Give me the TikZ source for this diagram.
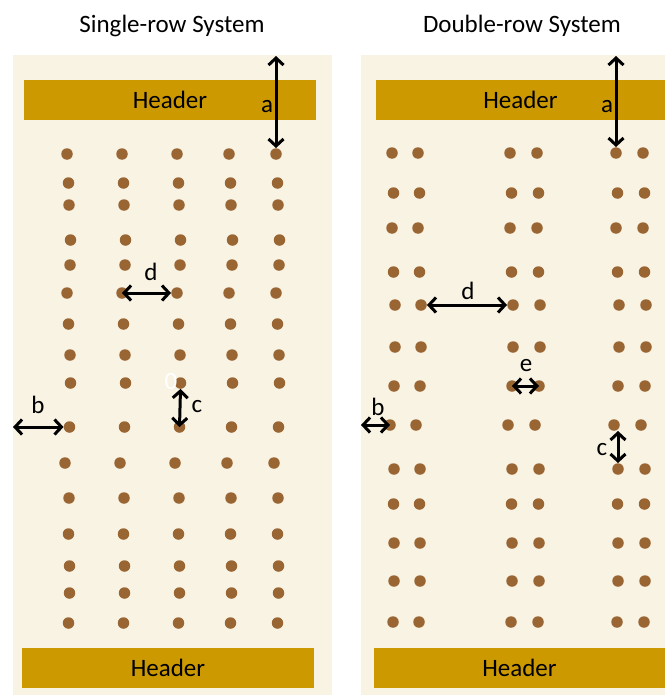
\documentclass[tikz,border=0pt]{standalone}
\usepackage{fontspec}
\setmainfont{Carlito}
\usepackage{xcolor}
\usetikzlibrary{positioning,arrows.meta}
\definecolor{panel}{HTML}{F9F3E4}
\definecolor{gold}{HTML}{CC9900}
\definecolor{pin}{HTML}{996633}
\tikzstyle{header}=[rectangle, fill=gold, inner sep=0pt, minimum height=40pt,
        text centered, font=\fontsize{25}{30}\selectfont]
\tikzstyle{pindot}=[circle, fill=pin, inner sep=0pt, minimum size=11.5pt]
\tikzstyle{dim}=[line width=3pt, >={Straight Barb[length=7pt,width=15pt]}, <->]
\tikzstyle{lbl}=[inner sep=0pt, anchor=base, font=\fontsize{25}{30}\selectfont]

\begin{document}
\begin{tikzpicture}[x=1pt,y=-1pt]
        \useasboundingbox (0,0) rectangle (665,696);
        % panels
        \fill[panel] (13,55) rectangle (332,695);
        \fill[panel] (361,55) rectangle (665,695);
        \node (single) [lbl] at (172,32) {Single-row System};
        \node (double) [lbl] at (522,32) {Double-row System};
        \node (headL) [header, minimum width=292pt] at (170,100) {Header};
        \node (footL) [header, minimum width=292pt] at (168,668) {Header};
        \node (headR) [header, minimum width=289pt] at (520.5,100) {Header};
        \node (footR) [header, minimum width=291pt] at (519.5,668) {Header};

        % single-row pins
        \foreach \y/\dx [count=\r] in {154/0,183/1.5,205/2,240/3.5,265/3,293/0,324/1.5,355/3,
                383/3.5,427/2.5,463/-2,498/2,534/1.5,566/2.5,593/2.5,623/1.5}
          \foreach \x [count=\c] in {67,122,177,229,276}
            \node (L-\r-\c) [pindot] at (\x+\dx,\y) {};

        % double-row pins
        \foreach \y/\dx [count=\r] in {153/0,193/1.5,228/0,272/1.5,305/3,347/3,386/2,425/-2,
                469/2,504/1.5,543/2,581/2,622/1}
          \foreach \x [count=\c] in {392,418,510,537,616,643}
            \node (R-\r-\c) [pindot] at (\x+\dx,\y) {};

        % dimensions, single-row
        \coordinate (aL) at (276,56);
        \coordinate (bL) at (13,427);
        \draw[dim] (aL) -- (L-1-5.north);
        \draw[dim] (L-6-2.center) -- (L-6-3.west);
        \draw[dim] (L-9-3.south) -- (L-10-3.center);
        \draw[dim] (bL) -- (L-10-1.west);
        \node (la) [lbl] at (267,112) {a};
        \node (ld) [lbl] at (151,280) {d};
        \node (lc) [lbl] at (197,412) {c};
        \node (lb) [lbl] at (38,413) {b};
        \node (lo) [lbl, text=white] at (171,389) {0};

        % dimensions, double-row
        \coordinate (aR) at (616,56);
        \coordinate (bR) at (361,425);
        \draw[dim] (aR) -- (R-1-5.north);
        \draw[dim] (R-5-2.east) -- (R-5-3.west);
        \draw[dim] (R-7-3.center) -- (R-7-4.center);
        \draw[dim] (bR) -- (R-8-1.center);
        \draw[dim] (R-9-5 |- R-8-5.south) -- (R-9-5.north);
        \node (ra) [lbl] at (607,112) {a};
        \node (rd) [lbl] at (468,299) {d};
        \node (re) [lbl] at (526,371) {e};
        \node (rb) [lbl] at (378,415) {b};
        \node (rc) [lbl] at (602,455) {c};
\end{tikzpicture}
\end{document}
